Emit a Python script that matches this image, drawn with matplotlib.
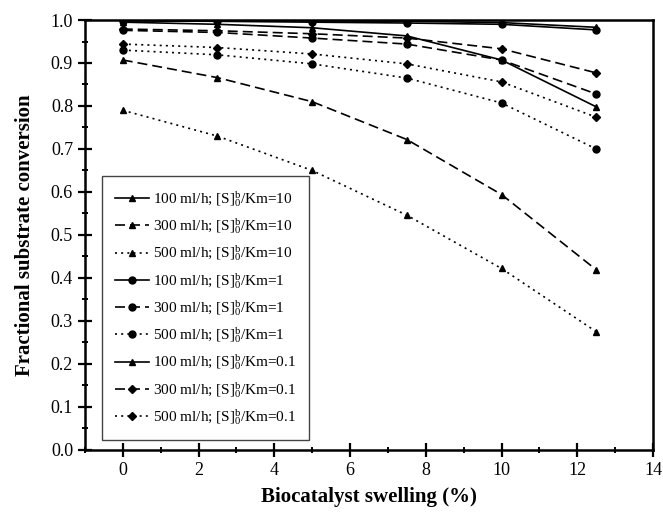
import matplotlib
matplotlib.use("Agg")
import matplotlib.pyplot as plt
from matplotlib.ticker import MultipleLocator

plt.rcParams['font.family'] = ['Liberation Serif', 'DejaVu Serif']
plt.rcParams['mathtext.fontset'] = 'custom'
plt.rcParams['mathtext.rm'] = 'Liberation Serif'
plt.rcParams['mathtext.it'] = 'Liberation Serif:italic'

swelling = [0, 2.5, 5, 7.5, 10, 12.5]

km10_100 = [0.995, 0.990, 0.982, 0.963, 0.907, 0.798]
km10_300 = [0.907, 0.866, 0.810, 0.722, 0.594, 0.419]
km10_500 = [0.790, 0.730, 0.650, 0.546, 0.422, 0.275]
km1_100 = [0.998, 0.997, 0.995, 0.993, 0.990, 0.977]
km1_300 = [0.976, 0.971, 0.958, 0.944, 0.907, 0.828]
km1_500 = [0.930, 0.919, 0.898, 0.865, 0.807, 0.700]
km01_100 = [0.999, 0.999, 0.998, 0.997, 0.994, 0.983]
km01_300 = [0.979, 0.975, 0.968, 0.958, 0.933, 0.877]
km01_500 = [0.944, 0.936, 0.921, 0.898, 0.856, 0.774]

labels = [
    r'100 ml/h; [S]$_0^\mathrm{b}$/Km=10',
    r'300 ml/h; [S]$_0^\mathrm{b}$/Km=10',
    r'500 ml/h; [S]$_0^\mathrm{b}$/Km=10',
    r'100 ml/h; [S]$_0^\mathrm{b}$/Km=1',
    r'300 ml/h; [S]$_0^\mathrm{b}$/Km=1',
    r'500 ml/h; [S]$_0^\mathrm{b}$/Km=1',
    r'100 ml/h; [S]$_0^\mathrm{b}$/Km=0.1',
    r'300 ml/h; [S]$_0^\mathrm{b}$/Km=0.1',
    r'500 ml/h; [S]$_0^\mathrm{b}$/Km=0.1',
]
series = [km10_100, km10_300, km10_500, km1_100, km1_300, km1_500,
          km01_100, km01_300, km01_500]
markers = ['^', '^', '^', 'o', 'o', 'o', '^', 'D', 'D']
solid = '-'
dashed = (0, (6, 3))
dotted = (0, (1.2, 2.5))
styles = [solid, dashed, dotted, solid, dashed, dotted, solid, dashed, dotted]

fig = plt.figure(figsize=(6.63, 5.13), dpi=100)
ax = fig.add_axes([0.128, 0.123, 0.857, 0.838])

for y, lab, m, ls in zip(series, labels, markers, styles):
    ms = 4.5 if m == 'D' else 5
    ax.plot(swelling, y, color='black', linestyle=ls, linewidth=1.2,
            marker=m, markersize=ms, label=lab)

ax.set_xlim(-1, 14)
ax.set_ylim(0.0, 1.0)
ax.xaxis.set_major_locator(MultipleLocator(2))
ax.xaxis.set_minor_locator(MultipleLocator(1))
ax.yaxis.set_major_locator(MultipleLocator(0.1))
ax.yaxis.set_minor_locator(MultipleLocator(0.05))
ax.yaxis.set_major_formatter(matplotlib.ticker.FormatStrFormatter('%.1f'))
ax.tick_params(which='major', direction='inout', length=10, width=1.6,
               labelsize=13, top=False, right=False)
ax.tick_params(which='minor', direction='inout', length=5, width=1.4,
               top=False, right=False)
for s in ax.spines.values():
    s.set_linewidth(1.8)

ax.set_xlabel('Biocatalyst swelling (%)', fontsize=15, fontweight='bold',
              labelpad=6)
ax.set_ylabel('Fractional substrate conversion', fontsize=15,
              fontweight='bold', labelpad=11)

leg = ax.legend(loc='upper left', bbox_to_anchor=(0.030, 0.637),
                borderaxespad=0, fontsize=11, handlelength=2.2,
                handletextpad=0.3, labelspacing=0.48, borderpad=0.85,
                fancybox=False, edgecolor='#444444', framealpha=1)
leg.get_frame().set_linewidth(1.0)

fig.savefig('out.png', dpi=100)
